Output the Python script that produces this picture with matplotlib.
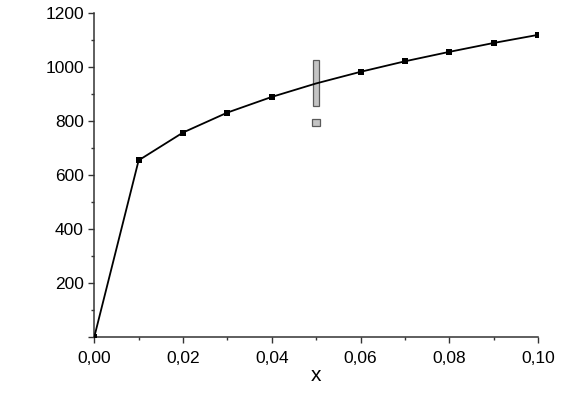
import matplotlib
matplotlib.use("Agg")
import matplotlib.pyplot as plt
from matplotlib.ticker import MultipleLocator, FuncFormatter

plt.rcParams['font.family'] = ['Liberation Sans', 'DejaVu Sans']

x_vals = [0.00, 0.01, 0.02, 0.03, 0.04, 0.05, 0.06, 0.07, 0.08, 0.09, 0.10]
y_vals = [0, 655, 758, 832, 890, 940, 983, 1022, 1057, 1090, 1120]

box_x = [0.05, 0.05]
box_bottom = [857, 782]
box_top = [1027, 809]
box_width = [0.00142, 0.00165]

fig = plt.figure(figsize=(5.83, 4.08), dpi=100)
ax = fig.add_axes([0.1617, 0.174, 0.7611, 0.7934])

ax.plot(x_vals, y_vals, color='black', lw=1.3, clip_on=True, zorder=5)
ax.plot(x_vals, y_vals, ls='none', marker='s', ms=4.8, mew=0,
        mfc='black', clip_on=True, zorder=3)

heights = [t - b for t, b in zip(box_top, box_bottom)]
ax.bar(box_x, heights, bottom=box_bottom, width=box_width,
       color='#c4c4c4', edgecolor='#5a5a5a', linewidth=0.9, zorder=4)

ax.set_xlim(0, 0.10)
ax.set_ylim(0, 1200)

ax.spines['top'].set_visible(False)
ax.spines['right'].set_visible(False)
for s in ('left', 'bottom'):
    ax.spines[s].set_linewidth(1.1)
    ax.spines[s].set_color('#333333')

ax.xaxis.set_major_locator(MultipleLocator(0.02))
ax.xaxis.set_minor_locator(MultipleLocator(0.01))
ax.yaxis.set_major_locator(MultipleLocator(200))
ax.yaxis.set_minor_locator(MultipleLocator(100))

ax.xaxis.set_major_formatter(FuncFormatter(lambda v, p: f"{v:.2f}".replace('.', ',')))
ax.yaxis.set_major_formatter(FuncFormatter(lambda v, p: '' if abs(v) < 1e-9 else f"{v:.0f}"))

ax.tick_params(which='major', direction='out', length=4.0, width=1.0,
               labelsize=12.5, color='#333333')
ax.tick_params(axis='x', which='major', pad=6.0)
ax.tick_params(axis='y', which='major', pad=3.5)
ax.tick_params(which='minor', direction='out', length=2.5, width=1.0, color='#333333')

ax.set_xlabel('x', fontsize=15, labelpad=0)

fig.savefig('out.png', dpi=100)
